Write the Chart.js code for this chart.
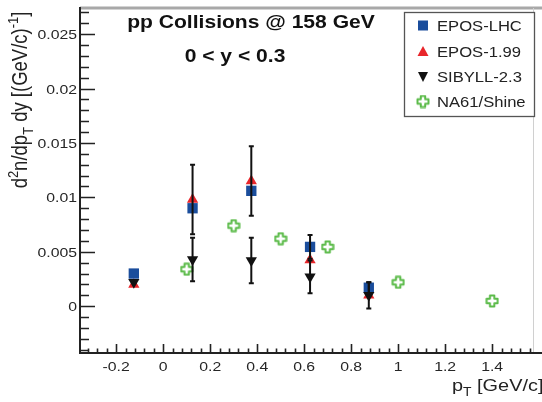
<!DOCTYPE html>
<html>
<head>
<meta charset="utf-8">
<script src="https://cdn.jsdelivr.net/npm/chart.js@4/dist/chart.umd.min.js"></script>
<style>
  html, body { margin: 0; padding: 0; background: #fff; }
  canvas { display: block; }
</style>
</head>
<body>
<canvas id="ptChart" width="542" height="402"></canvas>
<script>
// pT bin centres used by the model predictions
const binX = [-0.125, 0.125, 0.375, 0.625, 0.875];
const eposLhc = [0.0030, 0.0090, 0.0106, 0.00545, 0.0017];
const eposLhcErr = [0, 0, 0, 0.0011, 0.0005];
const epos199 = [0.0020, 0.0098, 0.0115, 0.00425, 0.0010];
const epos199Err = [0, 0.0032, 0.0032, 0, 0];
const sibyll = [0.0022, 0.0043, 0.0042, 0.0027, 0.0010];
const sibyllErr = [0, 0.0020, 0.0021, 0.0015, 0.0012];

// NA61/Shine measurement
const na61X = [0.1, 0.3, 0.5, 0.7, 1.0, 1.4];
const na61Y = [0.0034, 0.0074, 0.0062, 0.00545, 0.0022, 0.00048];

// axis ticks
const xTicks = [-0.2, 0, 0.2, 0.4, 0.6, 0.8, 1, 1.2, 1.4];
const xTickLabels = ['-0.2', '0', '0.2', '0.4', '0.6', '0.8', '1', '1.2', '1.4'];
const yTicks = [0, 0.005, 0.01, 0.015, 0.02, 0.025];
const yTickLabels = ['0', '0.005', '0.01', '0.015', '0.02', '0.025'];

const seriesNames = ['EPOS-LHC', 'EPOS-1.99', 'SIBYLL-2.3', 'NA61/Shine'];

const X_MIN = -0.354, X_MAX = 1.578;
const Y_MIN = -0.0043, Y_MAX = 0.0274;
const SX = 1.17; // the picture is a bit wide, stretch the text to match
const FONT = '"Liberation Sans", Arial, sans-serif';

const BLUE = '#1a4d9c', RED = '#e8262b', GREEN = '#5cbb4a';

function toPoints(xs, ys) {
  return xs.map((x, i) => ({ x: x, y: ys[i] }));
}

// open cross marker (NA61)
function makeCross(size) {
  const c = document.createElement('canvas');
  c.width = size; c.height = size;
  const g = c.getContext('2d');
  const m = size / 2, a = 2.2, e = size / 2 - 1.5;
  g.translate(m, m);
  g.beginPath();
  g.moveTo(-a, -e); g.lineTo(a, -e); g.lineTo(a, -a); g.lineTo(e, -a);
  g.lineTo(e, a); g.lineTo(a, a); g.lineTo(a, e); g.lineTo(-a, e);
  g.lineTo(-a, a); g.lineTo(-e, a); g.lineTo(-e, -a); g.lineTo(-a, -a);
  g.closePath();
  g.strokeStyle = GREEN;
  g.lineWidth = 2;
  g.lineJoin = 'round';
  g.stroke();
  return c;
}
const crossImg = makeCross(14);

function txt(ctx, s, x, y, size, bold, align, color) {
  ctx.save();
  ctx.translate(x, y);
  ctx.scale(SX, 1);
  ctx.font = (bold ? 'bold ' : '') + size + 'px ' + FONT;
  ctx.textAlign = align || 'left';
  ctx.textBaseline = 'alphabetic';
  ctx.fillStyle = color || '#222';
  ctx.fillText(s, 0, 0);
  ctx.restore();
}

// text with sub/superscripts, drawn from the current origin
function richWidth(ctx, segs, size) {
  let w = 0;
  segs.forEach(sg => {
    ctx.font = ((sg.sub || sg.sup) ? size * 0.7 : size) + 'px ' + FONT;
    w += ctx.measureText(sg.t).width;
  });
  return w;
}
function drawRich(ctx, segs, size, x0) {
  let x = x0;
  segs.forEach(sg => {
    const s = (sg.sub || sg.sup) ? size * 0.7 : size;
    ctx.font = s + 'px ' + FONT;
    const dy = sg.sup ? -size * 0.42 : (sg.sub ? size * 0.28 : 0);
    ctx.fillText(sg.t, x, dy);
    x += ctx.measureText(sg.t).width;
  });
}

const decorPlugin = {
  id: 'decor',
  afterDatasetsDraw(chart) {
    const ctx = chart.ctx;
    const xs = chart.scales.x, ys = chart.scales.y;
    // error bars
    chart.data.datasets.forEach(ds => {
      if (!ds.err) return;
      ds.data.forEach((p, i) => {
        const e = ds.err[i];
        if (!e) return;
        const px = xs.getPixelForValue(p.x);
        const top = ys.getPixelForValue(p.y + e);
        const bot = ys.getPixelForValue(p.y - e);
        ctx.save();
        ctx.strokeStyle = '#111';
        ctx.lineWidth = 2;
        ctx.beginPath();
        ctx.moveTo(px, top); ctx.lineTo(px, bot);
        ctx.moveTo(px - 2.5, top); ctx.lineTo(px + 2.5, top);
        ctx.moveTo(px - 2.5, bot); ctx.lineTo(px + 2.5, bot);
        ctx.stroke();
        ctx.restore();
      });
    });
  },
  afterDraw(chart) {
    const ctx = chart.ctx;
    const xs = chart.scales.x, ys = chart.scales.y;
    const a = chart.chartArea;
    ctx.save();
    // frame
    ctx.strokeStyle = '#a8a8a8';
    ctx.lineWidth = 3;
    ctx.beginPath(); ctx.moveTo(a.left, a.top); ctx.lineTo(542, a.top); ctx.stroke();
    ctx.strokeStyle = '#d0d0d0';
    ctx.lineWidth = 1;
    ctx.beginPath(); ctx.moveTo(a.right - 0.5, a.top); ctx.lineTo(a.right - 0.5, a.bottom); ctx.stroke();
    ctx.strokeStyle = '#222';
    ctx.lineWidth = 2;
    ctx.beginPath();
    ctx.moveTo(a.left, a.top - 1); ctx.lineTo(a.left, a.bottom); ctx.lineTo(542, a.bottom);
    ctx.stroke();

    // ticks (inward)
    ctx.lineWidth = 1.6;
    ctx.beginPath();
    for (let k = Math.ceil(Y_MIN / 0.001); k <= Math.floor(Y_MAX / 0.001); k++) {
      const py = Math.round(ys.getPixelForValue(k * 0.001)) + 0.5;
      const len = (k % 5 === 0) ? 15 : 9;
      ctx.moveTo(a.left, py); ctx.lineTo(a.left + len, py);
    }
    for (let k = Math.ceil(X_MIN / 0.04); k <= Math.floor(X_MAX / 0.04); k++) {
      const px = Math.round(xs.getPixelForValue(k * 0.04)) + 0.5;
      const len = (k % 5 === 0) ? 9 : 4.5;
      ctx.moveTo(px, a.bottom); ctx.lineTo(px, a.bottom - len);
    }
    ctx.stroke();

    // tick labels
    yTicks.forEach((v, i) => {
      txt(ctx, yTickLabels[i], 77, ys.getPixelForValue(v) + 5, 13.5, false, 'right', '#262626');
    });
    xTicks.forEach((v, i) => {
      txt(ctx, xTickLabels[i], xs.getPixelForValue(v), 371, 13.5, false, 'center', '#262626');
    });

    // axis titles
    ctx.fillStyle = '#222';
    ctx.textBaseline = 'alphabetic';
    const ySegs = [{ t: 'd' }, { t: '2', sup: true }, { t: 'n/dp' }, { t: 'T', sub: true },
      { t: ' dy [(GeV/c)' }, { t: '-1', sup: true }, { t: ']' }];
    ctx.save();
    ctx.translate(27, 100);
    ctx.scale(SX, 1);
    ctx.rotate(-Math.PI / 2);
    const yw = richWidth(ctx, ySegs, 18.5);
    drawRich(ctx, ySegs, 18.5, -yw / 2);
    ctx.restore();

    const xSegs = [{ t: 'p' }, { t: 'T', sub: true }, { t: ' [GeV/c]' }];
    ctx.save();
    ctx.translate(452, 391);
    ctx.scale(SX, 1);
    drawRich(ctx, xSegs, 17, 0);
    ctx.restore();

    // header text
    txt(ctx, 'pp Collisions @ 158 GeV', 251, 28, 18, true, 'center', '#111');
    txt(ctx, '0 < y < 0.3', 235, 62, 18, true, 'center', '#111');

    // legend
    ctx.fillStyle = '#fff';
    ctx.fillRect(404.5, 12.5, 130, 104);
    ctx.strokeStyle = '#555';
    ctx.lineWidth = 1.3;
    ctx.strokeRect(404.5, 12.5, 130, 104);
    const rows = [25.5, 51.5, 76.5, 101.5];
    const mx = 423;
    // square
    ctx.fillStyle = BLUE;
    ctx.fillRect(mx - 5, rows[0] - 5, 10, 10);
    // triangle up
    ctx.fillStyle = RED;
    ctx.beginPath();
    ctx.moveTo(mx, rows[1] - 5.5); ctx.lineTo(mx + 5.5, rows[1] + 4.5); ctx.lineTo(mx - 5.5, rows[1] + 4.5);
    ctx.closePath(); ctx.fill();
    // triangle down
    ctx.fillStyle = '#111';
    ctx.beginPath();
    ctx.moveTo(mx, rows[2] + 5.5); ctx.lineTo(mx + 5, rows[2] - 4.5); ctx.lineTo(mx - 5, rows[2] - 4.5);
    ctx.closePath(); ctx.fill();
    ctx.drawImage(crossImg, mx - 7, rows[3] - 7);
    seriesNames.forEach((n, i) => {
      txt(ctx, n, 437, rows[i] + 5, 14.2, false, 'left', '#222');
    });
    ctx.restore();
  }
};

const chart = new Chart(document.getElementById('ptChart').getContext('2d'), {
  type: 'scatter',
  data: {
    datasets: [
      {
        label: seriesNames[2],
        data: toPoints(binX, sibyll),
        err: sibyllErr,
        pointStyle: 'triangle',
        rotation: 180,
        pointRadius: 6.5,
        backgroundColor: '#111',
        borderColor: '#111',
        borderWidth: 0,
      },
      {
        label: seriesNames[0],
        data: toPoints(binX, eposLhc),
        err: eposLhcErr,
        pointStyle: 'rect',
        pointRadius: 7.3,
        backgroundColor: BLUE,
        borderColor: BLUE,
        borderWidth: 0,
      },
      {
        label: seriesNames[1],
        data: toPoints(binX, epos199),
        err: epos199Err,
        pointStyle: 'triangle',
        pointRadius: 6.5,
        backgroundColor: RED,
        borderColor: RED,
        borderWidth: 0,
      },
      {
        label: seriesNames[3],
        data: toPoints(na61X, na61Y),
        pointStyle: crossImg,
        pointRadius: 7,
      },
    ],
  },
  options: {
    responsive: false,
    animation: false,
    layout: { padding: { top: 5, right: 2, left: 0, bottom: 0 } },
    plugins: {
      legend: { display: false },
      tooltip: { enabled: false },
    },
    scales: {
      x: {
        type: 'linear',
        min: X_MIN,
        max: X_MAX,
        grid: { display: false, drawTicks: false },
        border: { display: false },
        ticks: { display: false, stepSize: 0.2 },
        afterFit: s => { s.height = 49; },
      },
      y: {
        type: 'linear',
        min: Y_MIN,
        max: Y_MAX,
        grid: { display: false, drawTicks: false },
        border: { display: false },
        ticks: { display: false, stepSize: 0.005 },
        afterFit: s => { s.width = 80; },
      },
    },
  },
  plugins: [decorPlugin],
});
</script>
</body>
</html>
